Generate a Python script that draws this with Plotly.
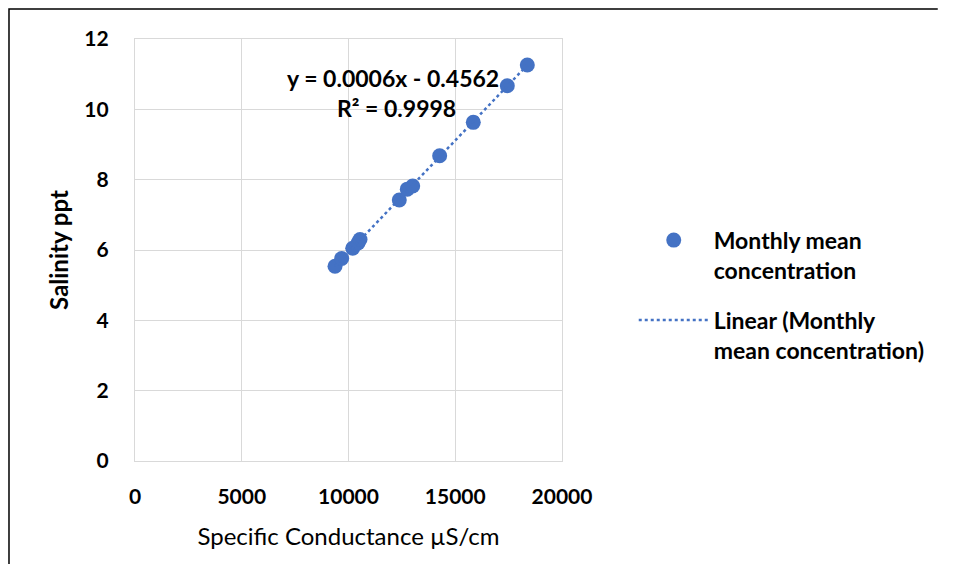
import numpy as np
import plotly.graph_objects as go

# Data
conductance = [9368, 9681, 10197, 10445, 10539, 12379, 12754, 13007, 14270, 15845, 17438, 18375]
salinity = [5.54, 5.76, 6.05, 6.20, 6.30, 7.42, 7.73, 7.82, 8.68, 9.63, 10.67, 11.26]
x_ticks = [0, 5000, 10000, 15000, 20000]
x_tick_labels = ["0", "5000", "10000", "15000", "20000"]
y_ticks = [0, 2, 4, 6, 8, 10, 12]
y_tick_labels = ["0", "2", "4", "6", "8", "10", "12"]
series_name = "Monthly mean<br>concentration"
trend_name = "Linear (Monthly<br>mean concentration)"
equation_text = "y = 0.0006x - 0.4562"
r2_text = "R² = 0.9998"

BLUE = "#4472C4"
FONT = "Lato"

slope, intercept = np.polyfit(conductance, salinity, 1)
tx = np.array([min(conductance), max(conductance)])
ty = slope * tx + intercept

fig = go.Figure()
fig.add_trace(go.Scatter(
    x=conductance, y=salinity, mode="markers", name=series_name, legendgroup="a",
    marker=dict(color=BLUE, size=15),
))
fig.add_trace(go.Scatter(
    x=tx, y=ty, mode="lines", name=trend_name, legendgroup="b",
    line=dict(color=BLUE, width=2.5, dash="dot"),
))

fig.add_annotation(x=12084, y=10.89, text=equation_text, showarrow=False,
                   font=dict(family=FONT, size=23, color="black", weight="bold"))
fig.add_annotation(x=12250, y=10.04, text=r2_text, showarrow=False,
                   font=dict(family=FONT, size=23, color="black", weight="bold"))

# outer chart border (only left/top visible in the reference), as one open path
fig.add_shape(type="path", xref="paper", yref="paper",
              path="M -0.2951,-0.25 L -0.2951,1.0711 L 1.88,1.0711",
              line=dict(color="black", width=1.5), fillcolor="rgba(0,0,0,0)", layer="below")

fig.update_layout(
    width=936, height=556,
    margin=dict(l=127, r=382, t=31, b=103),
    paper_bgcolor="white", plot_bgcolor="white",
    font=dict(family=FONT, color="black"),
    showlegend=True,
    legend=dict(x=1.168, y=0.393, xanchor="left", yanchor="middle", valign="top",
                font=dict(family=FONT, size=23, color="black", weight="bold"),
                itemwidth=70, tracegroupgap=17, bgcolor="rgba(0,0,0,0)"),
    xaxis=dict(range=[0, 20000], tickvals=x_ticks, ticktext=x_tick_labels,
               showgrid=True, gridcolor="#D9D9D9", gridwidth=1.2,
               showline=True, linecolor="#D9D9D9", linewidth=1.2, mirror=True, zeroline=False,
               ticks="", ticklabelstandoff=17,
               tickfont=dict(family=FONT, size=21, color="black", weight="bold"),
               title=dict(text="Specific Conductance µS/cm", standoff=20,
                          font=dict(family=FONT, size=24, color="black"))),
    yaxis=dict(range=[0, 12], tickvals=y_ticks, ticktext=y_tick_labels,
               showgrid=True, gridcolor="#D9D9D9", gridwidth=1.2,
               showline=True, linecolor="#D9D9D9", linewidth=1.2, mirror=True, zeroline=False,
               ticks="", ticklabelstandoff=21,
               tickfont=dict(family=FONT, size=21, color="black", weight="bold"),
               title=dict(text="Salinity ppt", standoff=8,
                          font=dict(family=FONT, size=24, color="black", weight="bold"))),
)

fig.write_html("out.html")
